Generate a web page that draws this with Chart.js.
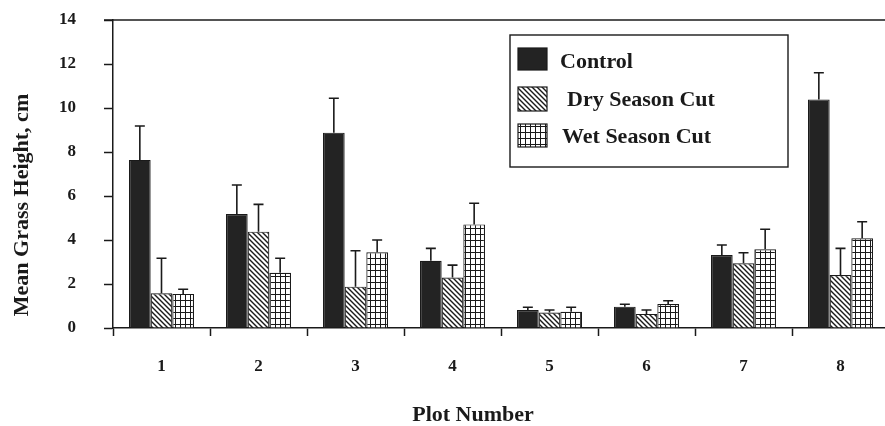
<!DOCTYPE html>
<html>
<head>
<meta charset="utf-8">
<title>Mean Grass Height by Plot</title>
<script src="https://cdn.jsdelivr.net/npm/chart.js@4.4.1/dist/chart.umd.min.js"></script>
<style>
  html, body { margin: 0; padding: 0; background: #fff; overflow: hidden; }
  #chart { display: block; }
</style>
</head>
<body>
<canvas id="chart" width="892" height="426"></canvas>
<script>
const plots = ['1', '2', '3', '4', '5', '6', '7', '8'];
const controlMean = [7.64, 5.18, 8.88, 3.06, 0.82, 0.97, 3.32, 10.39];
const controlErr = [1.54, 1.32, 1.56, 0.56, 0.12, 0.11, 0.45, 1.21];
const dryMean = [1.58, 4.38, 1.88, 2.29, 0.70, 0.64, 2.94, 2.41];
const dryErr = [1.59, 1.24, 1.63, 0.57, 0.12, 0.18, 0.48, 1.21];
const wetMean = [1.55, 2.51, 3.44, 4.71, 0.74, 1.09, 3.58, 4.08];
const wetErr = [0.21, 0.66, 0.56, 0.96, 0.20, 0.15, 0.91, 0.75];
const yTicks = [0, 2, 4, 6, 8, 10, 12, 14];

const INK = '#1a1a1a';
const SERIF = "'Liberation Serif', 'Times New Roman', serif";

// diagonal "\" hatch for the dry season bars
function hatchPattern() {
    const c = document.createElement('canvas');
    c.width = 5; c.height = 5;
    const g = c.getContext('2d');
    g.fillStyle = '#fff';
    g.fillRect(0, 0, 5, 5);
    g.strokeStyle = INK;
    g.lineWidth = 1.4;
    g.beginPath();
    g.moveTo(-1, -1); g.lineTo(6, 6);
    g.moveTo(-1, 4); g.lineTo(1, 6);
    g.moveTo(4, -1); g.lineTo(6, 1);
    g.stroke();
    return g.createPattern(c, 'repeat');
}

// square grid for the wet season bars
function gridPattern() {
    const c = document.createElement('canvas');
    c.width = 5; c.height = 6;
    const g = c.getContext('2d');
    g.fillStyle = '#fff';
    g.fillRect(0, 0, 5, 6);
    g.fillStyle = INK;
    g.fillRect(0, 0, 5, 1);
    g.fillRect(0, 0, 1, 6);
    return g.createPattern(c, 'repeat');
}

const series = [
    { label: 'Control', data: controlMean, err: controlErr, fill: '#232323' },
    { label: 'Dry Season Cut', data: dryMean, err: dryErr, fill: hatchPattern() },
    { label: 'Wet Season Cut', data: wetMean, err: wetErr, fill: gridPattern() }
];

// upward error bars with caps
const errorBars = {
    id: 'errorBars',
    afterDatasetsDraw(chart) {
        const ctx = chart.ctx;
        const y = chart.scales.y;
        ctx.save();
        ctx.strokeStyle = INK;
        ctx.lineWidth = 1.6;
        chart.data.datasets.forEach((ds, i) => {
            chart.getDatasetMeta(i).data.forEach((bar, j) => {
                const top = y.getPixelForValue(ds.data[j] + ds.err[j]);
                ctx.beginPath();
                ctx.moveTo(bar.x, bar.y);
                ctx.lineTo(bar.x, top);
                ctx.moveTo(bar.x - 5, top);
                ctx.lineTo(bar.x + 5, top);
                ctx.stroke();
            });
        });
        ctx.restore();
    }
};

// top frame line, legend box and axis titles
const decorations = {
    id: 'decorations',
    afterDraw(chart) {
        const ctx = chart.ctx;
        const area = chart.chartArea;
        ctx.save();
        ctx.strokeStyle = INK;
        ctx.lineWidth = 1.5;
        ctx.beginPath();
        ctx.moveTo(area.left - 9, area.top);
        ctx.lineTo(area.right + 5, area.top);
        ctx.stroke();

        // legend
        ctx.lineWidth = 1.4;
        ctx.strokeRect(510, 35, 278, 132);
        const rows = [
            { y: 48, h: 22, tx: 560, ty: 62 },
            { y: 87, h: 24, tx: 567, ty: 100 },
            { y: 124, h: 23, tx: 562, ty: 137 }
        ];
        ctx.font = 'bold 22px ' + SERIF;
        ctx.textBaseline = 'middle';
        ctx.textAlign = 'left';
        chart.data.datasets.forEach((ds, i) => {
            const r = rows[i];
            ctx.fillStyle = ds.backgroundColor;
            ctx.fillRect(518, r.y, 29, r.h);
            ctx.lineWidth = 1.2;
            ctx.strokeRect(518, r.y, 29, r.h);
            ctx.fillStyle = INK;
            ctx.fillText(ds.label, r.tx, r.ty);
        });

        // axis titles
        ctx.font = 'bold 22px ' + SERIF;
        ctx.textAlign = 'center';
        ctx.fillText('Plot Number', 473, 415);
        ctx.translate(22, 205);
        ctx.rotate(-Math.PI / 2);
        ctx.fillText('Mean Grass Height, cm', 0, 0);
        ctx.restore();
    }
};

new Chart(document.getElementById('chart'), {
    type: 'bar',
    data: {
        labels: plots,
        datasets: series.map(s => ({
            label: s.label,
            data: s.data,
            err: s.err,
            backgroundColor: s.fill,
            borderColor: INK,
            borderWidth: 1.2,
            barPercentage: 1,
            categoryPercentage: 0.67
        }))
    },
    options: {
        responsive: false,
        animation: false,
        layout: { padding: { top: 20, right: 3, left: 0, bottom: 0 } },
        plugins: {
            legend: { display: false },
            tooltip: { enabled: false }
        },
        scales: {
            x: {
                afterFit(scale) {
                    scale.height = 98;
                    scale.paddingLeft = 0;
                    scale.paddingRight = 0;
                },
                grid: {
                    offset: true,
                    drawOnChartArea: false,
                    tickLength: 8,
                    tickColor: INK,
                    tickWidth: 1.5
                },
                border: { color: INK, width: 1.5 },
                ticks: {
                    padding: 20,
                    color: INK,
                    font: { family: SERIF, size: 17, weight: 'bold' }
                }
            },
            y: {
                min: 0,
                max: 14,
                afterFit(scale) {
                    scale.width = 113;
                    scale.paddingTop = 0;
                    scale.paddingBottom = 0;
                },
                afterBuildTicks(scale) { scale.ticks = yTicks.map(v => ({ value: v })); },
                grid: {
                    drawOnChartArea: false,
                    tickLength: 9,
                    tickColor: INK,
                    tickWidth: 1.5
                },
                border: { color: INK, width: 1.5 },
                ticks: {
                    padding: 28,
                    color: INK,
                    font: { family: SERIF, size: 17, weight: 'bold' }
                }
            }
        }
    },
    plugins: [errorBars, decorations]
});
</script>
</body>
</html>
